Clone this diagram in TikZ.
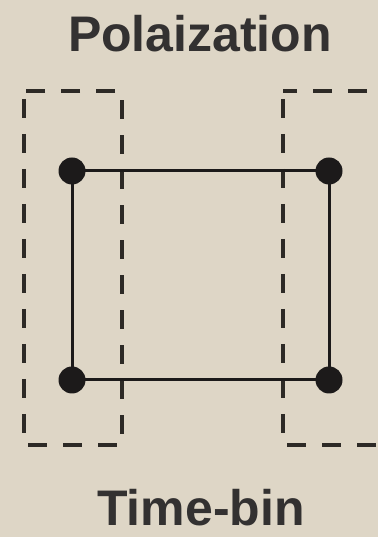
\documentclass[tikz,border=0pt]{standalone}
\usepackage{fontspec}
\setmainfont{Liberation Sans}
\definecolor{bg}{RGB}{222,214,198}
\definecolor{ink}{RGB}{28,26,26}
\definecolor{dashink}{RGB}{45,42,38}
\begin{document}
\begin{tikzpicture}[x=1pt,y=1pt,
  dot/.style={circle,fill=ink,inner sep=0pt,minimum size=27pt},
  edge/.style={draw=ink,line width=3pt},
  group/.style={draw=dashink,line width=3.4pt,dash pattern=on 19pt off 16pt,dash phase=-8pt},
  lbl/.style={font=\fontsize{50}{60}\selectfont\bfseries,text=ink!90,inner sep=0pt,anchor=base}]
\fill[bg] (0,0) rectangle (378,537);
\useasboundingbox (0,0) rectangle (378,537);
\begin{scope}
\clip (0,0) rectangle (378,537);
\draw[group] (24,446) rectangle (122,92);
\draw[group] (283,446) rectangle (395,92);
\end{scope}
\node[dot] (tl) at (72,366) {};
\node[dot] (tr) at (329,366) {};
\node[dot] (bl) at (72,157) {};
\node[dot] (br) at (329,157) {};
\draw[edge] (tl.center) -- (tr.center);
\draw[edge] (bl.center) -- (br.center);
\draw[edge] (tl.center) -- (bl.center);
\draw[edge] (tr.center) -- (br.center);
\node[lbl] (pol) at (200,485) {Polaization};
\node[lbl] (tb) at (201,12) {Time-bin};
\end{tikzpicture}
\end{document}
